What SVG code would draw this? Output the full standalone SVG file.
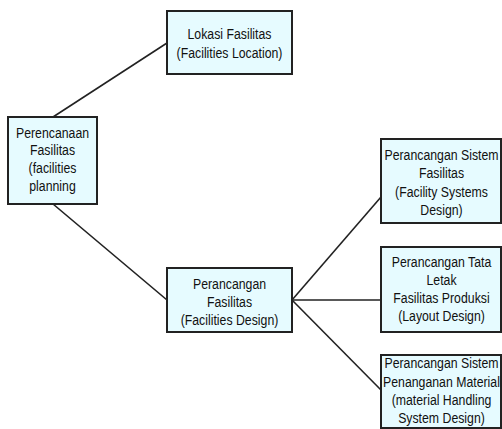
<svg xmlns="http://www.w3.org/2000/svg" width="502" height="429" viewBox="0 0 502 429">
<style>
.box{fill:#e6fbff;stroke:#222;stroke-width:2}
.t{font-family:"Liberation Sans",Arial,sans-serif;font-size:15px;fill:#111;text-anchor:middle}
.c{stroke:#222;stroke-width:1.6;fill:none}
</style>
<rect width="502" height="429" fill="#fff"/>
<g id="connectors">
<line class="c" x1="53" y1="117" x2="167" y2="43"/>
<line class="c" x1="53" y1="204" x2="167" y2="300"/>
<line class="c" x1="292" y1="300" x2="381" y2="197"/>
<line class="c" x1="292" y1="300" x2="381" y2="300"/>
<line class="c" x1="292" y1="300" x2="381" y2="390"/>
</g>
<g id="lokasi">
<rect class="box" x="167" y="11" width="125" height="63"/>
<g transform="translate(229.5,0) scale(0.82,1)"><text class="t" x="0" y="39">Lokasi Fasilitas</text><text class="t" x="0" y="58">(Facilities Location)</text></g>
</g>
<g id="perencanaan">
<rect class="box" x="8" y="117" width="89" height="87"/>
<g transform="translate(52.5,0) scale(0.82,1)"><text class="t" x="0" y="137.7">Perencanaan</text><text class="t" x="0" y="155.3">Fasilitas</text><text class="t" x="0" y="173.3">(facilities</text><text class="t" x="0" y="191">planning</text></g>
</g>
<g id="perancangan">
<rect class="box" x="167" y="268" width="125" height="64"/>
<g transform="translate(229.5,0) scale(0.82,1)"><text class="t" x="0" y="289.3">Perancangan</text><text class="t" x="0" y="307">Fasilitas</text><text class="t" x="0" y="325.3">(Facilities Design)</text></g>
</g>
<g id="sistem">
<rect class="box" x="381" y="139" width="120" height="84"/>
<g transform="translate(441.5,0) scale(0.82,1)"><text class="t" x="0" y="160">Perancangan Sistem</text><text class="t" x="0" y="178.3">Fasilitas</text><text class="t" x="0" y="196.7">(Facility Systems</text><text class="t" x="0" y="215">Design)</text></g>
</g>
<g id="tataletak">
<rect class="box" x="381" y="247" width="120" height="85"/>
<g transform="translate(441.5,0) scale(0.82,1)"><text class="t" x="0" y="266.7">Perancangan Tata</text><text class="t" x="0" y="285">Letak</text><text class="t" x="0" y="303.3">Fasilitas Produksi</text><text class="t" x="0" y="321">(Layout Design)</text></g>
</g>
<g id="material">
<rect class="box" x="381" y="355" width="120" height="73"/>
<g transform="translate(441.5,0) scale(0.82,1)"><text class="t" x="0" y="368.3">Perancangan Sistem</text><text class="t" x="0" y="386.7">Penanganan Material</text><text class="t" x="0" y="405">(material Handling</text><text class="t" x="0" y="423.3">System Design)</text></g>
</g>
</svg>
